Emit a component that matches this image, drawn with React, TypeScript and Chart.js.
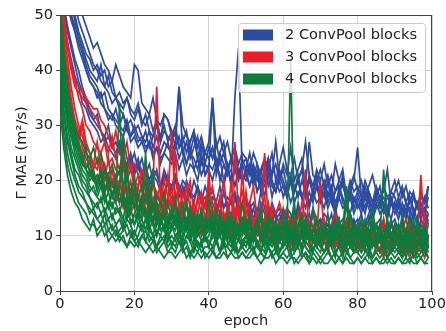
import React, { useEffect, useRef } from "react";
import { Chart, registerables } from "chart.js";

Chart.register(...registerables);

// epochs 0..99
const epochs: number[] = Array.from({ length: 100 }, (_, i) => i);

const xTicks = [0, 20, 40, 60, 80, 100];
const yTicks = [0, 10, 20, 30, 40, 50];

const legendLabels = ["2 ConvPool blocks", "3 ConvPool blocks", "4 ConvPool blocks"];
const groupColors = ["#2c4ba1", "#ee1d25", "#0b7c3b"];

// ---- 2 ConvPool blocks (blue) ----
const blue1 = [60,58,56,55,54,52,50,48,46,44, 45,43,41,40,38,41,39,37,36,35, 41,40,34,33,32,35,31,30,32,31, 29,28,37,30,28,27,29,26,28,25, 27,35,26,28,25,27,24,26,23,25, 24,22,25,23,21,24,22,25,20,23, 26,22,21,24,20,22,27,21,19,22, 20,23,19,21,18,20,22,17,19,21, 18,20,17,19,21,18,16,19,17,18, 20,17,19,16,18,17,15,18,16,19];
const blue2 = [62,57,53,50,47,45,43,40,38,37, 36,34,33,31,32,30,29,28,30,27, 28,26,27,25,27,24,26,23,25,24, 23,25,22,24,21,23,22,20,24,21, 22,20,23,21,19,22,20,35,44,21, 20,22,19,21,18,20,23,19,18,21, 19,17,20,18,21,17,19,16,18,20, 17,19,16,18,15,17,20,16,18,15, 17,15,18,16,14,17,15,16,14,17, 15,13,16,14,17,15,13,16,14,17];
const blue3 = [58,55,52,49,47,44,42,40,38,37, 35,36,33,32,31,33,30,29,31,28, 29,27,28,26,27,25,26,24,25,27, 24,26,37,25,23,26,22,24,21,23, 22,35,21,24,20,23,19,22,21,20, 22,19,21,18,20,17,22,19,18,20, 17,19,16,18,20,17,15,18,16,19, 16,18,15,17,14,19,16,15,17,14, 16,14,17,15,13,16,14,15,13,16, 14,16,13,15,12,14,16,13,15,12];
const blue4 = [55,51,47,44,41,38,36,34,32,31, 30,29,27,28,26,25,27,24,23,25, 22,24,21,23,20,22,21,19,22,20, 19,21,18,20,19,17,20,18,16,19, 17,18,16,19,15,17,16,18,15,16, 17,15,16,14,18,15,13,16,14,15, 13,15,14,12,16,13,14,12,15,13, 12,14,13,11,15,12,13,11,14,12, 13,11,12,14,10,12,13,11,12,10, 12,11,13,10,12,11,9,12,11,13];
const blue5 = [64,60,56,52,49,46,44,41,39,38, 37,35,36,33,32,31,30,32,29,28, 30,28,27,29,26,28,30,27,32,31, 28,30,26,27,29,25,28,24,27,23, 26,24,27,23,25,22,24,26,21,23, 24,21,23,20,22,24,19,21,23,20, 22,19,21,18,20,22,17,20,18,21, 19,17,20,16,18,19,17,15,18,20, 26,17,15,18,16,17,19,15,17,16, 15,17,14,16,15,13,16,14,15,14];
const blue6 = [66,62,58,55,52,49,47,45,43,41, 40,38,37,39,36,35,34,33,35,32, 31,33,30,32,29,28,30,27,29,28, 27,29,26,28,25,27,29,24,26,25, 24,26,23,25,27,22,24,23,21,24, 22,25,21,23,20,22,24,21,27,20, 23,21,26,20,22,24,19,27,21,20, 22,19,21,18,23,20,19,17,20,18, 19,17,20,18,16,19,17,18,22,16, 18,20,17,19,16,18,15,17,16,19];
const blue7 = [52,48,45,42,39,37,34,33,31,30, 29,27,28,26,25,24,26,23,22,24, 21,23,20,22,19,21,20,18,21,19, 18,20,17,19,16,18,17,19,16,17, 15,17,16,14,18,15,16,14,17,15, 14,16,13,15,14,12,15,13,14,12, 15,13,12,14,11,13,12,14,11,12, 13,11,12,10,13,11,12,10,11,13, 11,10,12,11,9,12,10,11,9,12, 10,12,9,11,10,12,10,9,11,10];
const blue8 = [60,56,53,50,48,46,44,42,40,39, 38,41,37,36,34,35,33,32,30,31, 29,30,28,27,29,26,28,25,27,26, 25,27,24,26,23,25,24,22,25,21, 23,22,24,20,23,21,22,19,22,20, 21,19,22,18,20,19,21,17,20,18, 19,17,20,16,18,17,19,15,18,16, 17,15,18,16,14,17,15,16,14,17, 15,16,14,17,13,15,16,14,15,13, 16,14,15,13,17,14,12,15,13,19];
const blue9 = [57,52,48,45,42,40,37,35,33,31, 32,29,28,30,26,27,25,28,24,23, 25,22,24,21,23,20,22,19,21,20, 18,21,19,17,20,18,16,19,17,15, 18,16,14,17,15,16,13,17,14,15, 16,13,15,12,16,14,12,15,13,14, 12,14,13,11,15,12,13,11,14,12, 13,11,12,14,10,13,11,12,14,11, 12,14,11,13,10,12,11,13,10,12, 13,11,12,10,14,11,10,13,11,14];
const blue10 = [63,59,55,52,50,47,45,43,42,40, 41,39,40,37,38,35,36,34,35,33, 32,34,31,30,32,29,31,28,30,27, 29,26,28,25,27,24,26,28,23,25, 24,26,22,25,23,21,24,22,20,23, 21,23,20,22,19,21,24,20,18,22, 20,18,21,19,17,20,18,21,17,19, 18,20,17,19,16,18,21,17,19,16, 18,16,19,17,15,18,16,17,15,18, 17,15,18,16,14,17,16,14,17,15];

// ---- 3 ConvPool blocks (red) ----
const red1 = [52,47,44,40,37,36,35,34,33,32, 31,29,27,25,28,24,22,26,21,23, 20,19,22,18,17,19,37,16,18,15, 17,16,14,18,15,13,16,14,17,13, 15,12,14,16,11,13,12,15,11,13, 12,14,11,13,10,12,14,11,10,12, 11,13,10,12,9,11,10,12,9,11, 10,9,11,8,10,9,11,8,10,9, 9,11,8,10,9,8,10,7,9,8, 10,8,9,7,9,10,8,9,7,8];
const red2 = [55,48,42,37,33,30,28,26,25,23, 22,24,20,21,19,18,20,17,19,16, 18,15,17,14,16,15,13,17,14,16, 29,15,13,14,12,16,13,11,14,12, 13,15,12,11,14,12,10,27,13,11, 12,10,13,11,9,25,12,10,11,9, 10,12,9,11,10,8,12,10,9,11, 9,11,8,10,9,12,8,10,9,11, 8,10,9,11,8,9,7,10,8,9, 10,8,9,11,8,7,9,21,10,8];
const red3 = [50,45,40,35,31,29,26,24,23,21, 20,22,19,18,20,17,16,18,15,17, 16,14,17,15,13,16,14,12,15,13, 14,12,15,11,13,12,14,11,12,10, 22,12,11,13,10,12,20,11,10,12, 11,9,12,10,11,9,13,10,8,11, 10,9,11,8,10,12,9,8,10,9, 8,10,9,11,8,9,7,10,8,9, 9,8,10,7,9,8,10,8,7,9, 8,10,7,9,8,11,7,9,8,10];
const red4 = [53,46,38,34,30,28,31,27,25,22, 24,21,23,19,22,18,20,17,21,16, 19,17,15,18,14,20,16,15,13,17, 15,25,14,13,16,12,15,13,11,14, 13,12,16,11,14,10,13,12,15,11, 18,12,10,14,11,13,10,12,9,11, 12,10,13,9,11,10,22,9,11,10, 20,10,9,12,8,10,11,9,13,8, 10,9,12,8,11,9,10,13,8,10, 9,11,8,10,12,9,8,10,14,9];
const red5 = [58,50,45,41,38,35,33,30,29,27, 26,25,27,23,24,22,21,23,20,22, 19,21,18,20,17,19,18,16,20,17, 18,16,19,15,17,20,14,16,18,15, 17,19,14,16,20,15,17,13,16,18, 14,16,19,13,15,17,12,15,14,16, 13,15,12,14,11,16,13,11,14,12, 11,13,10,12,14,11,10,13,11,12, 10,12,11,9,13,10,12,9,11,10, 12,9,11,13,10,9,12,10,11,9];
const red6 = [49,42,37,33,30,27,25,23,22,20, 21,19,18,20,17,16,18,15,17,14, 16,15,13,17,14,12,15,13,16,12, 14,13,11,15,12,14,11,13,10,12, 11,13,10,12,14,11,9,12,10,13, 10,12,9,11,10,13,9,11,8,10, 9,11,8,10,9,8,11,9,7,10, 8,9,7,10,8,9,7,8,10,7, 8,7,9,8,10,7,8,6,9,7, 8,9,7,8,6,9,7,8,6,8];
const red7 = [54,49,45,41,38,37,36,35,34,33, 33,31,30,28,26,29,25,24,27,22, 23,21,19,22,18,20,17,19,16,21, 15,18,16,14,19,15,13,17,14,16, 19,14,13,17,12,15,14,13,16,12, 13,15,12,14,11,13,16,12,10,13, 11,13,12,10,14,11,12,9,11,13, 10,12,11,9,13,10,9,12,10,11, 9,12,10,8,11,10,9,12,8,10, 11,9,10,8,12,10,9,11,8,10];
const red8 = [51,44,39,32,29,27,30,25,24,23, 27,22,20,24,19,21,18,23,17,20, 16,19,15,18,14,17,15,13,16,14, 13,16,12,15,13,11,14,12,13,11, 14,11,13,10,12,15,11,13,10,22, 12,10,11,13,9,12,10,15,9,11, 10,12,9,14,10,8,11,9,12,10, 9,11,8,10,12,9,10,8,11,9, 10,8,12,9,11,8,10,9,12,8, 9,10,8,11,9,8,10,8,11,9];

// ---- 4 ConvPool blocks (green) ----
const green1 = [36,28,23,20,18,16,15,14,12,12, 11,12,10,11,10,9,10,9,8,9, 8,9,8,7,8,7,8,7,6,7, 7,6,7,8,6,7,6,7,6,7, 6,7,6,6,7,6,7,6,6,7, 6,6,7,6,5,6,6,7,5,6, 6,5,6,6,5,6,7,5,6,5, 6,5,5,6,5,6,5,6,5,5, 6,5,6,5,5,6,5,5,6,5, 5,6,5,5,6,5,5,6,5,5];
const green2 = [40,32,27,24,21,19,18,16,15,14, 13,14,12,13,11,12,10,11,12,10, 11,9,10,11,9,10,8,9,10,8, 9,8,10,8,9,7,8,9,7,8, 8,7,9,7,8,8,7,9,7,8, 7,8,7,9,7,6,8,7,8,6, 7,8,6,7,8,6,7,6,8,7, 6,7,8,6,7,6,7,8,6,7, 7,6,7,8,6,7,6,7,6,7, 6,7,6,7,8,6,7,6,7,6];
const green3 = [44,35,30,26,24,22,20,19,17,16, 15,17,14,16,13,15,14,12,14,13, 12,14,11,13,12,10,13,11,12,10, 11,13,10,12,11,9,12,10,11,9, 10,12,9,11,10,12,9,10,11,9, 10,9,11,8,10,12,9,10,8,11, 9,10,42,9,10,8,11,9,10,8, 10,9,8,11,9,10,8,9,11,8, 9,10,8,11,9,8,10,9,8,10, 9,8,10,9,11,8,9,10,8,9];
const green4 = [42,36,31,28,26,24,22,21,19,18, 17,19,16,18,15,17,34,16,14,17, 15,13,16,14,12,15,13,14,11,13, 12,14,11,13,12,10,13,11,12,10, 12,11,13,10,12,11,9,12,10,11, 10,12,9,11,13,10,12,9,11,10, 12,9,11,10,8,12,10,9,11,10, 9,11,10,12,9,10,8,11,9,10, 11,9,10,8,12,9,10,11,9,8, 10,9,11,8,10,9,12,8,10,9];
const green5 = [45,38,34,30,27,25,23,22,24,20, 21,19,22,18,20,17,19,28,16,18, 15,17,14,25,15,13,16,12,14,13, 15,12,14,11,13,15,12,10,13,11, 12,14,10,13,11,12,14,10,12,11, 13,11,10,12,14,9,11,13,10,12, 11,13,10,9,12,14,10,11,9,13, 10,12,11,9,13,10,12,11,14,10, 12,10,13,9,11,12,10,22,11,13, 10,12,9,11,13,10,12,9,11,10];
const green6 = [46,40,36,33,30,28,27,25,24,26, 23,25,22,21,23,20,22,19,21,18, 20,17,19,16,18,15,17,16,14,16, 13,15,14,12,16,13,11,14,12,13, 11,13,12,14,10,12,13,11,10,12, 11,13,10,12,9,11,14,10,12,9, 11,10,12,9,11,13,10,12,9,11, 10,12,9,11,10,13,9,11,10,12, 9,11,12,10,13,9,11,10,12,9, 11,10,12,9,11,13,10,11,9,12];
const green7 = [38,30,25,22,20,18,17,16,14,15, 13,12,14,11,12,10,11,12,10,11, 9,10,12,9,11,10,8,10,9,11, 8,10,9,8,10,9,7,9,8,10, 9,8,10,7,9,8,10,8,7,9, 8,10,7,9,8,7,9,8,10,7, 8,9,7,8,10,7,9,8,7,9, 8,7,9,8,6,9,7,8,9,7, 8,9,7,8,6,8,9,7,8,7, 8,7,9,6,8,7,8,9,7,8];
const green8 = [41,33,28,25,22,21,19,18,17,15, 16,14,15,13,14,12,13,11,13,12, 10,12,11,13,10,9,11,10,12,9, 10,9,11,8,10,9,11,8,9,10, 8,10,9,7,11,9,8,10,9,8, 9,8,10,8,7,9,8,10,7,9, 8,10,7,9,8,10,8,7,9,8, 9,7,8,10,7,8,9,7,8,9, 7,8,10,7,9,8,7,9,8,7, 9,8,7,8,10,7,8,7,9,7];
const green9 = [43,37,32,29,26,27,24,22,21,20, 19,21,18,20,17,19,16,18,15,17, 21,14,16,13,15,22,12,14,13,11, 14,12,13,16,11,13,10,12,14,11, 17,10,12,11,13,9,12,10,11,13, 10,12,9,11,10,12,9,11,13,10, 9,11,10,12,8,10,9,11,10,8, 10,9,11,8,10,12,9,10,8,11, 9,10,8,11,9,10,12,8,10,9, 8,10,9,11,8,10,9,8,11,8];
const green10 = [50,41,35,31,28,25,23,26,21,22, 19,22,18,21,17,20,16,19,23,15, 18,14,17,20,13,16,12,15,18,12, 14,17,11,13,16,10,14,12,15,11, 13,10,15,12,9,14,11,13,10,16, 11,14,9,12,15,10,13,9,12,11, 14,10,12,16,9,11,13,10,15,9, 12,10,14,9,11,13,10,16,9,12, 10,13,9,12,15,10,11,9,13,10, 12,9,14,10,11,9,13,10,12,8];
const green11 = [53,44,37,32,29,26,24,22,20,21, 18,20,17,15,18,16,14,17,13,15, 12,14,13,11,14,12,10,13,11,9, 12,10,11,9,12,10,8,11,9,10, 8,11,9,10,8,12,9,7,10,8, 10,8,11,9,7,10,8,9,11,7, 9,8,10,7,9,11,8,7,9,8, 7,9,8,10,7,8,6,9,8,7, 9,7,8,6,9,8,7,9,6,8, 7,8,6,9,7,8,6,7,8,6];
const green12 = [33,26,21,18,16,15,13,12,11,13, 10,11,12,9,10,11,9,10,8,10, 9,8,10,9,8,9,7,8,9,7, 8,7,9,7,8,6,8,7,9,6, 7,8,6,7,9,6,7,8,6,7, 6,7,8,6,7,6,8,6,7,6, 7,6,7,5,6,7,6,5,7,6, 5,6,7,6,5,6,5,7,6,5, 6,5,6,7,5,6,5,6,5,6, 5,6,5,6,5,7,5,6,5,6];
const green13 = [48,39,33,28,25,23,21,20,18,19, 17,16,18,15,16,14,15,13,17,12, 14,12,13,15,11,13,10,12,14,11, 12,11,13,10,12,14,9,11,12,10, 11,13,9,12,10,11,13,9,11,10, 12,9,11,13,10,8,12,10,11,9, 10,12,9,11,8,10,12,9,11,10, 9,11,10,8,12,9,11,19,10,9, 12,9,11,10,8,12,9,10,11,9, 10,12,8,11,9,10,8,11,9,10];

const blueRuns = [blue1, blue2, blue3, blue4, blue5, blue6, blue7, blue8, blue9, blue10];
const redRuns = [red1, red2, red3, red4, red5, red6, red7, red8];
const greenRuns = [green1, green2, green3, green4, green5, green6, green7, green8, green9, green10, green11, green12, green13];

const FONT = "DejaVu Sans";
const FS = 14.6;

const framePlugin = {
  id: "frameAndLegend",
  afterDraw(chart: any) {
    const { ctx, chartArea } = chart;
    const { left, right, top, bottom } = chartArea;
    ctx.save();
    ctx.strokeStyle = "#444";
    ctx.lineWidth = 1;
    ctx.beginPath();
    ctx.moveTo(left, top + 0.5);
    ctx.lineTo(right, top + 0.5);
    ctx.moveTo(right - 0.5, top);
    ctx.lineTo(right - 0.5, bottom);
    ctx.stroke();

    const lx = 238.5, ly = 23.5, lw = 187, lh = 69;
    ctx.beginPath();
    if ((ctx as any).roundRect) (ctx as any).roundRect(lx, ly, lw, lh, 3);
    else ctx.rect(lx, ly, lw, lh);
    ctx.fillStyle = "rgba(255,255,255,0.8)";
    ctx.fill();
    ctx.strokeStyle = "#cccccc";
    ctx.lineWidth = 1;
    ctx.stroke();

    ctx.font = `${FS}px "${FONT}"`;
    ctx.textBaseline = "middle";
    ctx.textAlign = "left";
    legendLabels.forEach((label, i) => {
      const cy = 35 + i * 22;
      ctx.fillStyle = groupColors[i];
      ctx.fillRect(243, cy - 5.5, 30, 11);
      ctx.fillStyle = "#222";
      ctx.fillText(label, 285, cy + 0.5);
    });
    ctx.restore();
  },
};

function makeDatasets() {
  const toPts = (arr: number[]) => arr.map((y, i) => ({ x: epochs[i], y }));
  const ds: any[] = [];
  const groups = [
    { runs: greenRuns, color: groupColors[2] },
    { runs: redRuns, color: groupColors[1] },
    { runs: blueRuns, color: groupColors[0] },
  ];
  groups.forEach((g) => {
    g.runs.forEach((r) => {
      ds.push({
        data: toPts(r),
        borderColor: g.color,
        backgroundColor: g.color,
        borderWidth: 1.7,
        pointRadius: 0,
        tension: 0,
        fill: false,
      });
    });
  });
  return ds;
}

export default function App() {
  const ref = useRef<HTMLCanvasElement | null>(null);
  useEffect(() => {
    if (!ref.current) return;
    Chart.defaults.font.family = FONT;
    const chart = new Chart(ref.current, {
      type: "line",
      data: { datasets: makeDatasets() },
      options: {
        animation: false,
        responsive: false,
        devicePixelRatio: 1,
        layout: { padding: { left: 0, right: 14, top: 15, bottom: 0 } },
        plugins: { legend: { display: false }, tooltip: { enabled: false } },
        scales: {
          x: {
            type: "linear",
            min: 0,
            max: 100,
            afterFit: (s: any) => { s.height = 40; },
            afterBuildTicks: (s: any) => { s.ticks = xTicks.map((v) => ({ value: v })); },
            ticks: { color: "#222", font: { size: FS }, padding: 0, maxRotation: 0 },
            grid: { color: "#d4d4d4", lineWidth: 1, tickColor: "#444", tickLength: 4 },
            border: { display: true, color: "#444", width: 1 },
            title: { display: true, text: "epoch", color: "#222", font: { size: FS }, padding: { top: 0, bottom: 1 } },
          },
          y: {
            type: "linear",
            min: 0,
            max: 50,
            afterFit: (s: any) => { s.width = 60; },
            afterBuildTicks: (s: any) => { s.ticks = yTicks.map((v) => ({ value: v })); },
            ticks: { color: "#222", font: { size: FS }, padding: 3 },
            grid: { color: "#d4d4d4", lineWidth: 1, tickColor: "#444", tickLength: 4 },
            border: { display: true, color: "#444", width: 1 },
            title: { display: true, text: "Γ MAE (m²/s)", color: "#222", font: { size: FS }, padding: { top: 13, bottom: 0 } },
          },
        },
      },
      plugins: [framePlugin],
    } as any);
    return () => chart.destroy();
  }, []);
  return (
    <div style={{ position: "fixed", left: 0, top: 0, width: 446, height: 331, background: "#fff" }}>
      <canvas ref={ref} width={446} height={331} style={{ width: 446, height: 331, display: "block" }} />
    </div>
  );
}
